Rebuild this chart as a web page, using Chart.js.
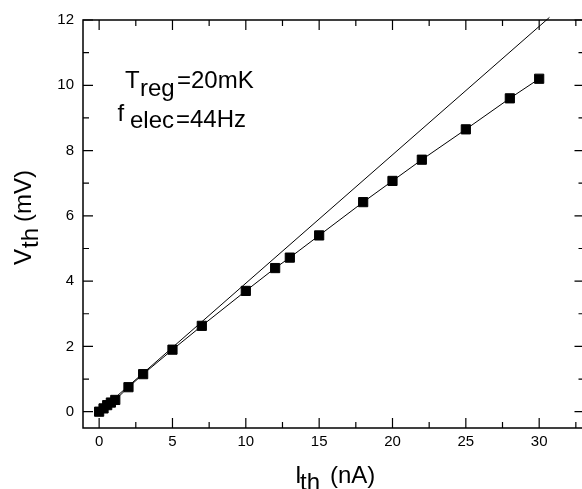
<!DOCTYPE html>
<html>
<head>
<meta charset="utf-8">
<script src="https://cdn.jsdelivr.net/npm/chart.js@4"></script>
<style>
  html, body { margin: 0; padding: 0; background: #fff; overflow: hidden; }
  #wrap { width: 592px; height: 489px; }
</style>
</head>
<body>
<div id="wrap"><canvas id="chart" width="592" height="489"></canvas></div>
<script>
// measured points
const currentNA = [0, 0.3, 0.55, 0.8, 1.1, 2, 3, 5, 7, 10, 12, 13, 15, 18, 20, 22, 25, 28, 30];
const voltageMV = [0, 0.1, 0.2, 0.28, 0.36, 0.75, 1.15, 1.9, 2.63, 3.7, 4.4, 4.72, 5.4, 6.42, 7.07, 7.72, 8.65, 9.6, 10.2];
// straight reference line
const fitCurrentNA = [0, 30.7];
const fitVoltageMV = [0, 12.08];

const xTickLabels = [0, 5, 10, 15, 20, 25, 30];
const xMinorTicks = [2.5, 7.5, 12.5, 17.5, 22.5, 27.5, 32.5];
const yTickLabels = [0, 2, 4, 6, 8, 10, 12];
const yMinorTicks = [1, 3, 5, 7, 9, 11];

const FONT = '"Liberation Sans", Arial, sans-serif';

function toPoints(xs, ys) {
    return xs.map((x, i) => ({x: x, y: ys[i]}));
}

// 軸・目盛り・文字はプラグインで描く
const framePlugin = {
    id: 'frame',
    afterDraw(chart) {
        const ctx = chart.ctx;
        const a = chart.chartArea;
        const sx = chart.scales.x;
        const sy = chart.scales.y;
        ctx.save();
        ctx.strokeStyle = '#000';
        ctx.lineWidth = 1.5;
        ctx.strokeRect(a.left, a.top, a.right - a.left, a.bottom - a.top);

        ctx.lineWidth = 1.2;
        ctx.beginPath();
        xTickLabels.forEach(v => {
            const px = sx.getPixelForValue(v);
            ctx.moveTo(px, a.bottom); ctx.lineTo(px, a.bottom - 10);
            ctx.moveTo(px, a.top); ctx.lineTo(px, a.top + 10);
        });
        xMinorTicks.forEach(v => {
            const px = sx.getPixelForValue(v);
            ctx.moveTo(px, a.bottom); ctx.lineTo(px, a.bottom - 6);
            ctx.moveTo(px, a.top); ctx.lineTo(px, a.top + 6);
        });
        yTickLabels.forEach(v => {
            const py = sy.getPixelForValue(v);
            ctx.moveTo(a.left, py); ctx.lineTo(a.left + 10, py);
            ctx.moveTo(a.right, py); ctx.lineTo(a.right - 10, py);
        });
        yMinorTicks.forEach(v => {
            const py = sy.getPixelForValue(v);
            ctx.moveTo(a.left, py); ctx.lineTo(a.left + 6, py);
            ctx.moveTo(a.right, py); ctx.lineTo(a.right - 6, py);
        });
        ctx.stroke();

        ctx.fillStyle = '#000';
        ctx.font = '15px ' + FONT;
        ctx.textAlign = 'center';
        ctx.textBaseline = 'middle';
        xTickLabels.forEach(v => {
            ctx.fillText(String(v), sx.getPixelForValue(v), a.bottom + 14);
        });
        ctx.textAlign = 'right';
        yTickLabels.forEach(v => {
            ctx.fillText(String(v), a.left - 9, sy.getPixelForValue(v));
        });

        ctx.textAlign = 'left';
        ctx.textBaseline = 'alphabetic';

        // x title
        ctx.font = '24px ' + FONT;
        ctx.fillText('I', 295, 483);
        ctx.fillText('th', 300, 490);
        ctx.fillText('(nA)', 330, 483);

        // y title
        ctx.save();
        ctx.translate(31, 265);
        ctx.rotate(-Math.PI / 2);
        ctx.fillText('V', 0, 0);
        ctx.fillText('th', 17, 7);
        ctx.fillText('(mV)', 43, 0);
        ctx.restore();

        // annotation
        ctx.font = '24px ' + FONT;
        ctx.fillText('T', 125, 88);
        ctx.fillText('reg', 140, 96);
        ctx.fillText('=20mK', 177, 88);
        ctx.fillText('f', 117.5, 121);
        ctx.fillText('elec', 130, 128);
        ctx.fillText('=44Hz', 176, 127);
        ctx.restore();
    }
};

const ctx = document.getElementById('chart').getContext('2d');
new Chart(ctx, {
    type: 'scatter',
    data: {
        datasets: [
            {
                data: toPoints(fitCurrentNA, fitVoltageMV),
                showLine: true,
                borderColor: '#000',
                borderWidth: 1,
                pointRadius: 0,
                clip: false
            },
            {
                data: toPoints(currentNA, voltageMV),
                showLine: true,
                borderColor: '#000',
                borderWidth: 1,
                pointStyle: 'rect',
                pointRadius: 6.5,
                pointBorderWidth: 1,
                pointBackgroundColor: '#000',
                pointBorderColor: '#000'
            }
        ]
    },
    options: {
        responsive: false,
        animation: false,
        layout: {padding: {left: 83, top: 20, right: 4, bottom: 61}},
        plugins: {legend: {display: false}, tooltip: {enabled: false}},
        scales: {
            x: {type: 'linear', display: false, min: -1.1, max: 33.09},
            y: {type: 'linear', display: false, min: -0.5, max: 12}
        }
    },
    plugins: [framePlugin]
});
</script>
</body>
</html>
